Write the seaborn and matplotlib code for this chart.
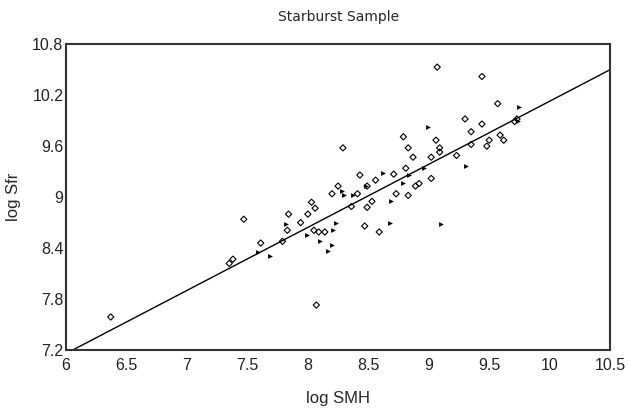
import pandas as pd
import matplotlib.pyplot as plt
import seaborn as sns

# values
diamond_x = [6.37, 7.47, 8.07, 9.07, 9.44, 9.57, 9.30, 9.44, 9.35, 8.79, 8.29, 9.06,
             8.83, 9.09, 9.09, 8.87, 9.02, 9.23, 9.50, 9.48, 9.59, 9.62, 9.35, 9.71,
             8.81, 9.02, 8.92, 8.89, 8.71, 8.83, 8.73, 8.43, 8.56, 8.49, 8.25, 8.20,
             8.41, 8.53, 8.49, 8.36, 8.03, 8.06, 8.00, 7.84, 7.94, 7.83, 8.05, 8.09,
             8.14, 8.47, 8.59, 7.61, 7.79, 7.38, 7.35, 9.73]
diamond_y = [7.59, 8.74, 7.73, 10.53, 10.42, 10.10, 9.92, 9.86, 9.77, 9.71, 9.58, 9.67,
             9.58, 9.58, 9.53, 9.47, 9.47, 9.49, 9.67, 9.60, 9.73, 9.67, 9.62, 9.89,
             9.34, 9.22, 9.16, 9.13, 9.27, 9.02, 9.04, 9.26, 9.20, 9.13, 9.13, 9.04,
             9.04, 8.95, 8.88, 8.89, 8.94, 8.87, 8.80, 8.80, 8.70, 8.61, 8.61, 8.59,
             8.59, 8.66, 8.59, 8.46, 8.48, 8.27, 8.22, 9.92]

triangle_x = [9.75, 8.99, 9.31, 8.62, 8.79, 8.69, 9.10, 8.68, 8.48, 8.30, 8.28, 8.37,
              8.23, 8.21, 8.10, 8.20, 8.17, 7.82, 7.99, 7.69, 7.59, 8.96, 8.84, 9.74]
triangle_y = [10.06, 9.82, 9.37, 9.28, 9.17, 8.96, 8.68, 8.70, 9.13, 9.02, 9.07, 9.03,
              8.70, 8.61, 8.48, 8.44, 8.37, 8.68, 8.55, 8.31, 8.36, 9.34, 9.26, 9.90]

fit_x = [6.0, 10.5]
fit_y = [7.16, 10.5]

x_ticks = [6, 6.5, 7, 7.5, 8, 8.5, 9, 9.5, 10, 10.5]
y_ticks = [7.2, 7.8, 8.4, 9, 9.6, 10.2, 10.8]

diamonds = pd.DataFrame({'x': diamond_x, 'y': diamond_y})
triangles = pd.DataFrame({'x': triangle_x, 'y': triangle_y})
fit = pd.DataFrame({'x': fit_x, 'y': fit_y})

sns.set_style('white')
plt.rcParams['font.family'] = ['Liberation Sans', 'DejaVu Sans']

fig = plt.figure(figsize=(6.29, 4.09), dpi=100)
ax = fig.add_axes([0.105, 0.144, 0.865, 0.748])

sns.lineplot(x='x', y='y', data=fit, color='black', linewidth=1.0, ax=ax)
sns.scatterplot(x='x', y='y', data=diamonds, marker='D', s=10, facecolor='none',
                edgecolor='black', linewidth=0.8, ax=ax)
sns.scatterplot(x='x', y='y', data=triangles, marker='>', s=12, color='black',
                edgecolor='black', linewidth=0, ax=ax)

ax.set_xlim(6, 10.5)
ax.set_ylim(7.2, 10.8)
ax.set_xticks(x_ticks)
ax.set_xticklabels([f'{t:g}' for t in x_ticks])
ax.set_yticks(y_ticks)
ax.set_yticklabels([f'{t:g}' for t in y_ticks])
ax.tick_params(length=0, labelsize=11.5, colors='#222222')
ax.tick_params(axis='x', pad=6)
ax.tick_params(axis='y', pad=2)

for sp in ax.spines.values():
    sp.set_color('#333333')
    sp.set_linewidth(1.5)

ax.set_title('Starburst Sample', fontsize=10, family=['DejaVu Sans'], pad=17)
ax.set_xlabel('log SMH', fontsize=12, labelpad=13)
ax.set_ylabel('log Sfr', fontsize=12, labelpad=8)

plt.savefig('out.png', dpi=100)
plt.close()
